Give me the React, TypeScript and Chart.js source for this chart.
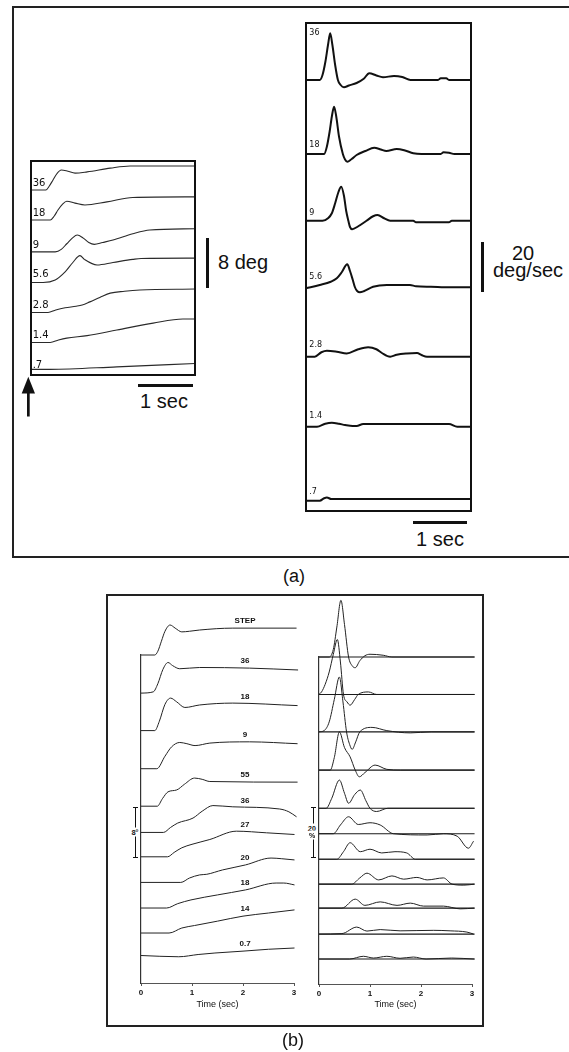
import React, { useEffect, useRef } from "react";
import { Chart, registerables } from "chart.js";

Chart.register(...registerables);

type Pt = [number, number];

// ---------------- Panel (a) left: eye position (deg) vs time (s) ----------------
const aPosLabels = ["36", "18", "9", "5.6", "2.8", "1.4", ".7"];
const aPosBaselines = [29.6, 24.8, 19.7, 14.8, 10, 5.2, 0.9];
const aPos36: Pt[] = [[0, 0], [0.27, 0], [0.33, 0.6], [0.4, 1.6], [0.47, 2.6], [0.55, 3.2], [0.67, 3.0], [0.8, 2.7], [1.02, 2.9], [1.44, 3.5], [1.8, 3.85], [2.98, 3.85]];
const aPos18: Pt[] = [[0, 0], [0.35, 0], [0.42, 0.6], [0.49, 1.6], [0.57, 2.5], [0.65, 3.0], [0.8, 2.7], [0.98, 2.4], [1.38, 2.9], [1.85, 3.6], [2.98, 3.7]];
const aPos9: Pt[] = [[0, 0], [0.44, 0], [0.55, 0.4], [0.65, 1.3], [0.75, 2.2], [0.84, 2.7], [0.95, 2.2], [1.05, 1.5], [1.15, 1.2], [1.3, 1.5], [1.49, 1.9], [1.85, 2.9], [2.16, 3.5], [2.98, 3.7]];
const aPos5_6: Pt[] = [[0, 0], [0.22, 0], [0.44, 0.4], [0.62, 1.7], [0.76, 3.2], [0.89, 4.3], [0.97, 3.7], [1.2, 2.8], [1.49, 3.2], [1.85, 3.7], [2.0, 3.85], [2.98, 3.9]];
const aPos2_8: Pt[] = [[0, 0], [0.31, 0], [0.45, 0.4], [0.62, 0.75], [0.82, 1.0], [0.93, 1.2], [1.07, 1.7], [1.25, 2.4], [1.44, 3.1], [1.7, 3.4], [1.98, 3.6], [2.98, 3.75]];
const aPos1_4: Pt[] = [[0, 0], [0.35, 0], [0.5, 0.4], [0.65, 0.7], [1.02, 1.1], [1.56, 2.0], [2.22, 3.1], [2.76, 3.75], [2.98, 3.75]];
const aPos0_7: Pt[] = [[0, 0], [0.35, 0], [1.56, 0.4], [2.98, 0.95]];
const aPosTraces = [aPos36, aPos18, aPos9, aPos5_6, aPos2_8, aPos1_4, aPos0_7];

// ---------------- Panel (a) right: eye velocity (deg/s) vs time (s) ----------------
const aVelLabels = ["36", "18", "9", "5.6", "2.8", "1.4", ".7"];
const aVelBaselines = [172.4, 142.8, 116.1, 89.5, 61.7, 33.7, 4.1];
const aVel36: Pt[] = [[0, 0], [0.25, 0], [0.3, 2], [0.35, 7], [0.4, 14], [0.44, 18.7], [0.48, 14], [0.53, 6], [0.58, 0], [0.63, -2], [0.69, -2.9], [0.78, -2.2], [0.92, -1.2], [1.05, 0.5], [1.15, 2.7], [1.28, 1.8], [1.4, 1.1], [1.6, 1.6], [1.75, 1.2], [1.9, 0], [2.4, 0], [2.45, 0.7], [2.55, 0.7], [2.6, 0], [3, 0]];
const aVel18: Pt[] = [[0, 0], [0.33, 0], [0.38, 3], [0.43, 9], [0.47, 15], [0.51, 18.9], [0.55, 15], [0.6, 7], [0.67, 0], [0.71, -2.2], [0.75, -3.1], [0.83, -2], [0.92, -0.4], [1.08, 1.2], [1.24, 2.5], [1.36, 1.8], [1.46, 1.2], [1.65, 2], [1.8, 1.4], [1.95, 0.3], [2.1, 0], [2.45, 0], [2.5, 0.7], [2.6, 0.5], [2.7, 0], [3, 0]];
const aVel9: Pt[] = [[0, 0], [0.3, 0], [0.4, 1], [0.47, 3], [0.53, 7], [0.59, 11.5], [0.64, 13.6], [0.69, 10], [0.73, 4], [0.77, 0], [0.8, -2.5], [0.84, -3.4], [0.95, -2.2], [1.1, 0], [1.22, 1.8], [1.3, 2.3], [1.42, 1], [1.53, 0], [1.95, 0], [2.0, -0.6], [2.6, -0.6], [2.65, 0], [3, 0]];
const aVel5_6: Pt[] = [[0, -0.4], [0.25, 0.9], [0.45, 2.2], [0.56, 3.6], [0.65, 6], [0.75, 9.2], [0.8, 6.5], [0.85, 3], [0.89, 0], [0.93, -1.5], [0.98, -2], [1.05, -1.6], [1.22, 0.2], [1.47, 0.9], [1.89, 0.9], [2.0, 0.4], [2.27, 0.2], [2.62, 0], [3, 0]];
const aVel2_8: Pt[] = [[0, 0], [0.16, 0], [0.28, 1.8], [0.38, 2.4], [0.56, 2], [0.74, 1.3], [0.95, 3], [1.13, 3.8], [1.28, 3], [1.38, 1.5], [1.53, 0], [1.65, 0.8], [1.83, 1.3], [2.02, 1.5], [2.1, 0.7], [2.2, 0], [3, 0]];
const aVel1_4: Pt[] = [[0, 0], [0.2, 0], [0.35, 1.2], [0.47, 1.6], [0.6, 1.2], [0.71, 0.7], [0.85, 0.3], [0.92, 0.3], [1.04, 1.1], [2.6, 1.1], [2.75, 0], [3, 0]];
const aVel0_7: Pt[] = [[0, 0], [0.25, 0], [0.33, 1.0], [0.38, 1.3], [0.46, 0.7], [3, 0.7]];
const aVelTraces = [aVel36, aVel18, aVel9, aVel5_6, aVel2_8, aVel1_4, aVel0_7];

// ---------------- Panel (b) left: position (deg) vs time (s) ----------------
const bPosLabels = ["STEP", "36", "18", "9", "55", "36", "27", "20", "18", "14", "0.7"];
const bBaselinesDeg = [52.5, 46.4, 40.4, 34.3, 28.3, 24.1, 20.2, 16.1, 12.0, 8.0, 4.4];
const bPosStep: Pt[] = [[0, 0], [0.27, 0], [0.33, 0.6], [0.4, 2.2], [0.47, 3.8], [0.57, 4.8], [0.67, 4.3], [0.8, 3.7], [0.95, 3.8], [1.15, 4.0], [1.8, 4.3], [3.05, 4.3]];
const bPos36: Pt[] = [[0, 0], [0.24, 0.2], [0.33, 1.5], [0.43, 3.8], [0.53, 4.9], [0.62, 4.4], [0.76, 3.9], [1.15, 4.1], [2.13, 4.0], [3.08, 3.7]];
const bPos18: Pt[] = [[0, 0], [0.27, 0], [0.36, 1.5], [0.47, 4.2], [0.58, 5.2], [0.7, 4.6], [0.86, 3.7], [1.15, 4.1], [1.8, 4.4], [3.07, 4.0]];
const bPos9: Pt[] = [[0, 0], [0.31, 0], [0.47, 2.0], [0.6, 3.5], [0.76, 4.2], [0.9, 4.0], [1.06, 3.7], [1.35, 4.1], [2.13, 4.3], [3.07, 4.0]];
const bPos55: Pt[] = [[0, 0], [0.32, 0], [0.42, 1.2], [0.53, 2.3], [0.7, 2.6], [0.85, 3.5], [1.05, 4.5], [1.2, 4.3], [1.35, 3.95], [3.07, 3.85]];
const bPos36b: Pt[] = [[0, 0], [0.44, 0], [0.58, 0.8], [0.72, 1.5], [1.02, 2.3], [1.2, 3.4], [1.41, 4.3], [1.8, 4.1], [2.72, 3.75], [2.9, 3.3], [3.05, 2.5]];
const bPos27: Pt[] = [[0, 0], [0.52, 0], [0.65, 0.7], [0.8, 1.44], [1.0, 2.0], [1.35, 2.77], [1.87, 4.1], [2.46, 3.84], [3.01, 3.57]];
const bPos20: Pt[] = [[0, 0], [0.78, 0], [0.95, 0.7], [1.15, 1.2], [1.29, 1.3], [1.6, 2.0], [2.05, 2.8], [2.55, 3.9], [2.75, 3.8], [3.01, 3.6]];
const bPos18b: Pt[] = [[0, 0], [0.5, 0], [0.72, 0.7], [0.98, 1.3], [1.5, 2.1], [2.05, 2.9], [2.65, 4.0], [2.8, 4.0], [3.01, 3.7]];
const bPos14: Pt[] = [[0, 0], [0.55, 0], [0.8, 0.8], [1.05, 1.2], [1.5, 1.9], [2.0, 2.7], [2.5, 3.2], [3.01, 3.7]];
const bPos0_7: Pt[] = [[0, 0], [0.74, -0.2], [1.12, 0.16], [1.45, 0.4], [2.0, 0.7], [2.5, 1.0], [3.01, 1.2]];
const bPosTraces = [bPosStep, bPos36, bPos18, bPos9, bPos55, bPos36b, bPos27, bPos20, bPos18b, bPos14, bPos0_7];

// ---------------- Panel (b) right: velocity vs time (s) ----------------
const bBaselinesVel = [131, 116, 101, 85.7, 70.4, 60.2, 50, 40, 30.4, 20, 10];
const bVelStep: Pt[] = [[0, 0], [0.2, 0], [0.28, 3], [0.35, 12], [0.43, 22.7], [0.5, 13], [0.58, 0], [0.65, -3.5], [0.71, -4.3], [0.8, -1.5], [0.9, 0.5], [1.0, 1.1], [1.26, 0.7], [1.43, 0], [3.05, 0]];
const bVel36: Pt[] = [[0, 0], [0.05, 1], [0.12, 4], [0.2, 9], [0.28, 16], [0.36, 22], [0.42, 13], [0.48, 0], [0.55, -3], [0.61, -4.3], [0.7, -2], [0.77, 0], [0.97, 1], [1.13, 0], [3.05, 0]];
const bVel18: Pt[] = [[0, 0], [0.1, 0.5], [0.2, 4], [0.3, 13], [0.4, 22], [0.47, 12], [0.54, 0], [0.6, -5], [0.65, -7], [0.72, -4], [0.8, 0], [1.04, 1.8], [1.33, 0.5], [1.79, -0.4], [2.2, 0], [3.05, 0]];
const bVel9: Pt[] = [[0, 0], [0.22, 0], [0.3, 5], [0.4, 15.3], [0.5, 9], [0.61, 5.3], [0.71, 0], [0.79, -2.7], [0.9, -1], [1.1, 2], [1.33, 0.3], [1.6, 0], [3.05, 0]];
const bVel55: Pt[] = [[0, 0], [0.14, 0], [0.25, 4], [0.4, 11.3], [0.5, 6], [0.58, 2], [0.7, 5.5], [0.81, 7.3], [0.92, 3], [1.0, 0], [1.13, -1.3], [1.35, 0], [3.05, 0]];
const bVel36b: Pt[] = [[0, 0], [0.28, 0], [0.42, 3.5], [0.58, 6.8], [0.77, 3.7], [1.0, 4.4], [1.2, 3.5], [1.46, 0], [2.12, -0.5], [2.44, 0], [2.71, -1], [2.93, -5.8], [3.03, -3]];
const bVel27: Pt[] = [[0, 0], [0.35, 0], [0.48, 3], [0.61, 6.6], [0.81, 3], [1.0, 4], [1.23, 2.5], [1.49, 3], [1.72, 2.5], [1.89, 0], [3.05, 0]];
const bVel20: Pt[] = [[0, 0], [0.64, 0], [0.8, 2.5], [0.94, 4.4], [1.17, 1.7], [1.43, 3.3], [1.66, 2], [1.92, 2.7], [2.12, 1.7], [2.44, 2.5], [2.61, 0], [2.84, -0.4], [3.05, 0]];
const bVel18b: Pt[] = [[0, 0], [0.45, 0], [0.71, 3.6], [0.9, 1.1], [1.2, 2.5], [1.53, 1.1], [1.79, 2], [2.05, 0.8], [2.44, 0.8], [2.77, -0.3], [3.05, 0]];
const bVel14: Pt[] = [[0, 0], [0.45, 0.2], [0.74, 2.8], [0.94, 1.2], [1.2, 1.8], [1.59, 1.3], [2.25, 1.5], [2.57, 1.3], [2.9, 0.8], [3.03, 0]];
const bVel0_7: Pt[] = [[0, 0], [0.6, 0], [0.87, 1.1], [1.07, 0.4], [1.33, 1.1], [1.59, 0.3], [1.85, 0.8], [2.1, 0], [2.6, 0.4], [3.05, 0]];
const bVelTraces = [bVelStep, bVel36, bVel18, bVel9, bVel55, bVel36b, bVel27, bVel20, bVel18b, bVel14, bVel0_7];

// axis ticks for panel (b)
const bTimeTicks = [0, 1, 2, 3];

// ---------------- layout (pixels) ----------------
const aPosLabelRise = [7, 7, 6, 8, 7, 7, 4];
const aVelLabelRise = [47, 9, 8, 10, 12, 11, 9];
const bPosLabelRise = [7, 7, 7, 7, 7, 7, 7, 7, 7, 7, 7];

function valueAt(tr: Pt[], t: number): number {
  for (let i = 1; i < tr.length; i++) {
    if (t <= tr[i][0]) {
      const [t0, v0] = tr[i - 1];
      const [t1, v1] = tr[i];
      return v0 + ((v1 - v0) * (t - t0)) / (t1 - t0 || 1);
    }
  }
  return tr[tr.length - 1][1];
}

interface Props {
  left: number;
  top: number;
  width: number;
  height: number;
  pad: { left: number; right: number; top: number; bottom: number };
  xMax: number;
  yMax: number;
  traces: Pt[][];
  baselines: number[];
  lineWidth: number;
  lineColor: string;
  drawBaselines?: boolean;
  baselineEnd?: number;
  frame?: boolean;
  axes?: boolean;
  labels?: string[];
  labelMode?: "left" | "trace";
  labelT?: number;
  labelRise?: number[];
  labelFont?: string;
  titlePadBottom?: number;
}

function TraceChart(p: Props) {
  const ref = useRef<HTMLCanvasElement>(null);
  useEffect(() => {
    const canvas = ref.current;
    if (!canvas) return;
    const datasets: any[] = [];
    if (p.drawBaselines) {
      p.baselines.forEach((b) =>
        datasets.push({
          data: [
            { x: 0, y: b },
            { x: p.baselineEnd ?? p.xMax, y: b },
          ],
          borderColor: "#1a1a1a",
          borderWidth: 1.1,
          pointRadius: 0,
          clip: false,
        })
      );
    }
    p.traces.forEach((tr, i) =>
      datasets.push({
        data: tr.map(([t, v]) => ({ x: t, y: v + p.baselines[i] })),
        borderColor: p.lineColor,
        borderWidth: p.lineWidth,
        pointRadius: 0,
        cubicInterpolationMode: "monotone",
        clip: false,
      })
    );

    const labelPlugin = {
      id: "traceLabels",
      afterDatasetsDraw(chart: any) {
        if (!p.labels) return;
        const { ctx } = chart;
        const xs = chart.scales.x;
        const ys = chart.scales.y;
        ctx.save();
        ctx.font = p.labelFont || "10px 'DejaVu Sans'";
        ctx.fillStyle = "#111";
        ctx.textBaseline = "middle";
        ctx.textAlign = p.labelMode === "trace" ? "center" : "left";
        p.labels.forEach((lab, i) => {
          const t = p.labelT ?? 0;
          const px = xs.getPixelForValue(t);
          const val = p.labelMode === "trace" ? valueAt(p.traces[i], t) : 0;
          const py = ys.getPixelForValue(p.baselines[i] + val) - (p.labelRise ? p.labelRise[i] : 7);
          ctx.fillText(lab, px, py);
        });
        ctx.restore();
      },
    };
    const framePlugin = {
      id: "frameBox",
      afterDraw(chart: any) {
        if (!p.frame) return;
        const { ctx, chartArea: a } = chart;
        ctx.save();
        ctx.strokeStyle = "#111";
        ctx.lineWidth = 2;
        ctx.strokeRect(a.left, a.top, a.right - a.left, a.bottom - a.top);
        ctx.restore();
      },
    };

    const scales: any = p.axes
      ? {
          x: {
            type: "linear",
            min: 0,
            max: p.xMax,
            position: "bottom",
            afterBuildTicks: (s: any) => {
              s.ticks = bTimeTicks.map((v) => ({ value: v }));
            },
            afterFit: (s: any) => {
              s.height = 40;
            },
            border: { display: true, color: "#555", width: 1 },
            grid: { display: true, drawOnChartArea: false, drawTicks: true, tickLength: 3, color: "#555" },
            ticks: {
              padding: 2,
              maxRotation: 0,
              autoSkip: false,
              color: "#111",
              font: { size: 8, weight: "bold", family: "'Liberation Sans', Arial, sans-serif" },
            },
            title: {
              display: true,
              text: "Time (sec)",
              color: "#111",
              font: { size: 9, family: "'Liberation Sans', Arial, sans-serif" },
              padding: { top: 0, bottom: p.titlePadBottom ?? 13 },
            },
          },
          y: {
            type: "linear",
            min: 0,
            max: p.yMax,
            afterFit: (s: any) => {
              s.width = 0;
            },
            border: { display: true, color: "#333", width: 1.2 },
            grid: { display: false },
            ticks: { display: false },
          },
        }
      : {
          x: { type: "linear", min: 0, max: p.xMax, display: false },
          y: { type: "linear", min: 0, max: p.yMax, display: false },
        };

    const chart = new Chart(canvas, {
      type: "line",
      data: { datasets },
      options: {
        animation: false,
        responsive: false,
        maintainAspectRatio: false,
        devicePixelRatio: 1,
        events: [],
        layout: { padding: p.pad },
        plugins: { legend: { display: false }, tooltip: { enabled: false }, title: { display: false } },
        scales,
      },
      plugins: [labelPlugin, framePlugin],
    } as any);
    return () => chart.destroy();
  }, []);
  return (
    <canvas
      ref={ref}
      width={p.width}
      height={p.height}
      style={{ position: "absolute", left: p.left, top: p.top, width: p.width, height: p.height }}
    />
  );
}

const SANS = "'Liberation Sans', Arial, Helvetica, sans-serif";

function Txt(props: { x: number; y: number; size: number; children: React.ReactNode; bold?: boolean; bg?: boolean }) {
  return (
    <div
      style={{
        position: "absolute",
        left: props.x,
        top: props.y,
        transform: "translate(-50%, -50%)",
        fontSize: props.size,
        fontFamily: SANS,
        fontWeight: props.bold ? "bold" : "normal",
        whiteSpace: "nowrap",
        lineHeight: 1,
        color: "#111",
        background: props.bg ? "#fff" : "transparent",
        padding: props.bg ? "1px 0" : 0,
      }}
    >
      {props.children}
    </div>
  );
}

function Bar(props: { l: number; t: number; w: number; h: number }) {
  return <div style={{ position: "absolute", left: props.l, top: props.t, width: props.w, height: props.h, background: "#111" }} />;
}

function IBeam(props: { x: number; top: number; h: number }) {
  return (
    <>
      <Bar l={props.x} t={props.top} w={1.2} h={props.h} />
      <Bar l={props.x - 2} t={props.top} w={5} h={1.2} />
      <Bar l={props.x - 2} t={props.top + props.h - 1} w={5} h={1.2} />
    </>
  );
}

export default function App() {
  return (
    <div style={{ position: "absolute", left: 0, top: 0, width: 569, height: 1052, overflow: "hidden", background: "#fff" }}>
      {/* panel (a) frame */}
      <div style={{ position: "absolute", left: 12, top: 6, width: 570, height: 552, border: "2px solid #222", boxSizing: "border-box" }} />
      <TraceChart
        left={26}
        top={156}
        width={174}
        height={224}
        pad={{ left: 5, right: 5, top: 5, bottom: 5 }}
        xMax={2.98}
        yMax={34.24}
        traces={aPosTraces}
        baselines={aPosBaselines}
        lineWidth={1.1}
        lineColor="#2a2a2a"
        frame
        labels={aPosLabels}
        labelMode="left"
        labelT={0.03}
        labelRise={aPosLabelRise}
        labelFont="10px 'DejaVu Sans', sans-serif"
      />
      <TraceChart
        left={301}
        top={18}
        width={175}
        height={498}
        pad={{ left: 5, right: 5, top: 5, bottom: 5 }}
        xMax={3}
        yMax={195.2}
        traces={aVelTraces}
        baselines={aVelBaselines}
        lineWidth={2}
        lineColor="#111"
        frame
        labels={aVelLabels}
        labelMode="left"
        labelT={0.06}
        labelRise={aVelLabelRise}
        labelFont="8px 'DejaVu Sans', sans-serif"
      />
      {/* scale bars (a) */}
      <Bar l={206} t={238} w={3} h={50} />
      <Txt x={243} y={262} size={20}>8 deg</Txt>
      <Bar l={138} t={384} w={55} h={3} />
      <Txt x={164} y={401} size={20}>1 sec</Txt>
      <svg style={{ position: "absolute", left: 20, top: 374 }} width={16} height={45}>
        <polygon points="8.3,2.7 1.7,19.5 15,19.5" fill="#111" />
        <rect x={7} y={18} width={2.7} height={24.5} fill="#111" />
      </svg>
      <Bar l={481} t={242} w={3} h={50} />
      <Txt x={523} y={253} size={20}>20</Txt>
      <Txt x={528} y={270} size={20}>deg/sec</Txt>
      <Bar l={413} t={521} w={54} h={3} />
      <Txt x={440} y={539} size={20}>1 sec</Txt>
      <Txt x={294} y={576} size={18}>(a)</Txt>

      {/* panel (b) frame */}
      <div style={{ position: "absolute", left: 106, top: 594, width: 378, height: 433, border: "2px solid #222", boxSizing: "border-box" }} />
      <TraceChart
        left={110}
        top={590}
        width={196}
        height={433}
        pad={{ left: 31, right: 12, top: 65, bottom: 0 }}
        xMax={3}
        yMax={52.5}
        traces={bPosTraces}
        baselines={bBaselinesDeg}
        lineWidth={1}
        lineColor="#222"
        axes
        labels={bPosLabels}
        labelMode="trace"
        labelT={2.04}
        labelRise={bPosLabelRise}
        labelFont="bold 8px 'Liberation Sans', Arial, sans-serif"
        titlePadBottom={13}
      />
      <TraceChart
        left={305}
        top={590}
        width={182}
        height={434}
        pad={{ left: 14, right: 15, top: 67, bottom: 0 }}
        xMax={3}
        yMax={131}
        traces={bVelTraces}
        baselines={bBaselinesVel}
        lineWidth={1}
        lineColor="#222"
        drawBaselines
        baselineEnd={3.05}
        axes
        titlePadBottom={14}
      />
      <IBeam x={135} top={807} h={51} />
      <Txt x={135} y={832} size={7} bold bg>8°</Txt>
      <IBeam x={313} top={807} h={51} />
      <Txt x={312} y={828} size={7} bold bg>20</Txt>
      <Txt x={312} y={835} size={7} bold bg>%</Txt>
      <Txt x={293} y={1040} size={18}>(b)</Txt>
    </div>
  );
}
